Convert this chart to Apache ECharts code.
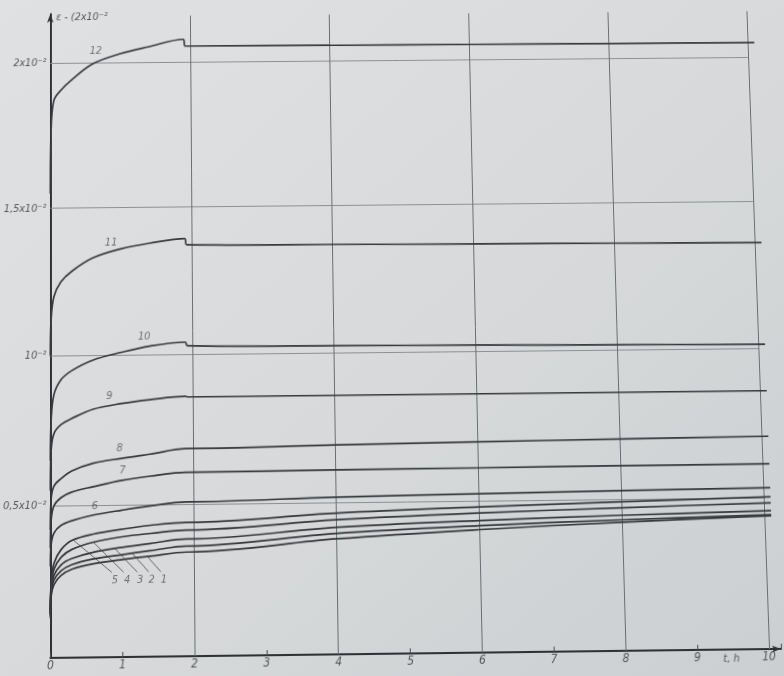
<!DOCTYPE html>
<html>
<head>
<meta charset="utf-8">
<script src="https://cdn.jsdelivr.net/npm/echarts@6/dist/echarts.min.js"></script>
<style>
  html, body {
    margin: 0; padding: 0; overflow: hidden;
    width: 784px; height: 676px;
    background: linear-gradient(to bottom right, #dfe1e2 0%, #d7d9da 55%, #cbcfd1 100%);
  }
  #chart { width: 784px; height: 676px; transform-origin: 0 0; }
</style>
</head>
<body>
<div id="chart"></div>
<script>
// Creep strain curves, ε in units of 10⁻², against time in hours.
const hours = [0, 0.01, 0.05, 0.15, 0.3, 0.6, 1.0, 1.4, 1.9, 1.93, 4, 6, 8, 10.1];

const curve1  = [0.13, 0.20, 0.24, 0.27, 0.29, 0.307, 0.32, 0.33, 0.342, 0.342, 0.38, 0.405, 0.424, 0.44];
const curve2  = [0.14, 0.21, 0.255, 0.285, 0.305, 0.323, 0.336, 0.348, 0.362, 0.362, 0.398, 0.418, 0.432, 0.443];
const curve3  = [0.14, 0.22, 0.27, 0.305, 0.325, 0.345, 0.36, 0.372, 0.385, 0.385, 0.418, 0.435, 0.447, 0.457];
const curve4  = [0.15, 0.23, 0.29, 0.33, 0.355, 0.378, 0.395, 0.405, 0.415, 0.415, 0.443, 0.46, 0.472, 0.483];
const curve5  = [0.15, 0.24, 0.31, 0.355, 0.385, 0.405, 0.42, 0.432, 0.44, 0.44, 0.465, 0.48, 0.492, 0.503];
const curve6  = [0.30, 0.37, 0.41, 0.435, 0.45, 0.468, 0.483, 0.496, 0.508, 0.508, 0.518, 0.524, 0.529, 0.533];
const curve7  = [0.36, 0.45, 0.50, 0.527, 0.545, 0.562, 0.582, 0.595, 0.606, 0.606, 0.609, 0.61, 0.612, 0.613];
const curve8  = [0.42, 0.52, 0.565, 0.59, 0.615, 0.64, 0.655, 0.668, 0.685, 0.685, 0.692, 0.697, 0.701, 0.705];
const curve9  = [0.55, 0.68, 0.74, 0.77, 0.79, 0.82, 0.838, 0.85, 0.86, 0.858, 0.858, 0.858, 0.858, 0.858];
const curve10 = [0.65, 0.78, 0.87, 0.92, 0.95, 0.985, 1.01, 1.03, 1.042, 1.03, 1.025, 1.022, 1.018, 1.015];
const curve11 = [1.00, 1.12, 1.20, 1.25, 1.285, 1.33, 1.36, 1.378, 1.393, 1.372, 1.368, 1.365, 1.363, 1.36];
const curve12 = [1.55, 1.76, 1.87, 1.905, 1.94, 1.995, 2.03, 2.053, 2.078, 2.055, 2.053, 2.052, 2.051, 2.05];

const curves = [curve1, curve2, curve3, curve4, curve5, curve6,
                curve7, curve8, curve9, curve10, curve11, curve12];

// Axis ticks
const xTickValues = [0, 1, 2, 3, 4, 5, 6, 7, 8, 9, 10];
const xGridHours = [2, 4, 6, 8, 10];
const yTickValues = [0.5, 1, 1.5, 2];
const yTickLabels = ['0,5x10⁻²', '10⁻²', '1,5x10⁻²', '2x10⁻²'];

// Curve numbers written beside the curves
const labelNames = ['12', '11', '10', '9', '8', '7', '6', '5', '4', '3', '2', '1'];
const labelHours = [0.65, 0.86, 1.32, 0.83, 0.97, 1.01, 0.62, 0.90, 1.07, 1.25, 1.41, 1.58];
const labelEps   = [2.04, 1.38, 1.06, 0.865, 0.69, 0.613, 0.497, 0.252, 0.252, 0.252, 0.252, 0.252];

// Leader lines from the numbers 5…1 up to their curves
const leaderFromHours = [0.32, 0.60, 0.90, 1.14, 1.35];
const leaderFromEps   = [0.386, 0.378, 0.356, 0.340, 0.329];
const leaderToHours   = [0.855, 1.02, 1.21, 1.37, 1.54];
const leaderToEps     = [0.278, 0.278, 0.278, 0.278, 0.278];

const X_MAX = 10.17;
const Y_MAX = 2.17;
const FONT = "'DejaVu Sans Condensed', 'DejaVu Sans', sans-serif";
const INK = '#37393c';
const TEXT = '#55585b';

// Sheet geometry: the drawing sits slightly keystoned on the page.
// Plot corners (t=0/10, ε=0/2) before and after the page warp.
const flatCorners   = [[48, 658], [770, 658], [48, 63], [770, 63]];
const warpedCorners = [[48, 658], [770, 649], [48, 63], [749, 57]];

function solveHomography(src, dst) {
  const A = [], b = [];
  for (let i = 0; i < 4; i++) {
    const [x, y] = src[i], [u, v] = dst[i];
    A.push([x, y, 1, 0, 0, 0, -u * x, -u * y]); b.push(u);
    A.push([0, 0, 0, x, y, 1, -v * x, -v * y]); b.push(v);
  }
  const n = 8;
  for (let c = 0; c < n; c++) {
    let p = c;
    for (let r = c + 1; r < n; r++) if (Math.abs(A[r][c]) > Math.abs(A[p][c])) p = r;
    [A[c], A[p]] = [A[p], A[c]]; [b[c], b[p]] = [b[p], b[c]];
    for (let r = 0; r < n; r++) {
      if (r === c) continue;
      const f = A[r][c] / A[c][c];
      for (let k = c; k < n; k++) A[r][k] -= f * A[c][k];
      b[r] -= f * b[c];
    }
  }
  return b.map((v, i) => v / A[i][i]);
}
const h = solveHomography(flatCorners, warpedCorners);
document.getElementById('chart').style.transform =
  'matrix3d(' + [h[0], h[3], 0, h[6], h[1], h[4], 0, h[7], 0, 0, 1, 0, h[2], h[5], 0, 1].join(',') + ')';

const chart = echarts.init(document.getElementById('chart'), null, { renderer: 'canvas' });

const curveSeries = curves.map((c, k) => ({
  name: String(k + 1),
  type: 'line',
  data: hours.map((t, i) => [t, c[i]]),
  smooth: 0.35,
  showSymbol: false,
  symbol: 'none',
  clip: false,
  z: 3,
  lineStyle: { color: INK, width: 1.7 },
  emphasis: { disabled: true }
}));

const hGrid = yTickValues.map(v => [
  { coord: [0, v], lineStyle: { color: '#8c9093', width: 1, type: 'solid' } },
  { coord: [10, v] }
]);
const vGrid = xGridHours.map(t => [
  { coord: [t, 0], lineStyle: { color: '#6a6e71', width: 1, type: 'solid' } },
  { coord: [t, Y_MAX - 0.01] }
]);
const leaders = leaderFromHours.map((t, i) => [
  { coord: [t, leaderFromEps[i]], lineStyle: { color: '#5a5d60', width: 0.9, type: 'solid' } },
  { coord: [leaderToHours[i], leaderToEps[i]] }
]);

const guideSeries = {
  name: 'guides',
  type: 'line',
  data: [[0, 0]],
  symbol: 'none',
  lineStyle: { opacity: 0 },
  silent: true,
  z: 1,
  markLine: {
    silent: true,
    symbol: ['none', 'none'],
    label: { show: false },
    z: 1,
    data: hGrid.concat(vGrid, leaders)
  }
};

const labelSeries = {
  name: 'numbers',
  type: 'scatter',
  symbolSize: 1,
  itemStyle: { color: 'rgba(0,0,0,0)' },
  silent: true,
  z: 4,
  data: labelNames.map((n, i) => ({ value: [labelHours[i], labelEps[i]], name: n })),
  label: {
    show: true,
    position: 'inside',
    formatter: p => p.name,
    color: TEXT,
    fontFamily: FONT,
    fontStyle: 'italic',
    fontSize: 11
  }
};

chart.setOption({
  animation: false,
  backgroundColor: 'transparent',
  grid: { left: 48, right: 2, top: 12.4, bottom: 18, containLabel: false },
  xAxis: {
    type: 'value',
    min: 0,
    max: X_MAX,
    interval: 1,
    name: 't, h',
    nameLocation: 'end',
    nameGap: -50,
    nameTextStyle: {
      color: TEXT, fontFamily: FONT, fontStyle: 'italic', fontSize: 11,
      align: 'center', verticalAlign: 'top', padding: [4, 0, 0, 0]
    },
    axisLine: {
      show: true, onZero: false,
      symbol: ['none', 'arrow'], symbolSize: [5, 9],
      lineStyle: { color: '#2f3134', width: 2 }
    },
    axisTick: { show: true, inside: true, length: 5, lineStyle: { color: '#4a4d50', width: 1 } },
    axisLabel: {
      margin: 2,
      color: TEXT, fontFamily: FONT, fontStyle: 'italic', fontSize: 12,
      formatter: v => (xTickValues.indexOf(v) >= 0 ? String(v) : '')
    },
    splitLine: { show: false }
  },
  yAxis: {
    type: 'value',
    min: 0,
    max: Y_MAX,
    interval: 0.5,
    name: 'ε - (2x10⁻²',
    nameLocation: 'end',
    nameGap: -4,
    nameTextStyle: {
      color: TEXT, fontFamily: FONT, fontStyle: 'italic', fontSize: 11,
      align: 'left', verticalAlign: 'middle', padding: [0, 0, 0, 6]
    },
    axisLine: {
      show: true, onZero: false,
      symbol: ['none', 'arrow'], symbolSize: [5, 9],
      lineStyle: { color: '#2f3134', width: 2 }
    },
    axisTick: { show: false },
    axisLabel: {
      margin: 4,
      color: TEXT, fontFamily: FONT, fontStyle: 'italic', fontSize: 11,
      formatter: v => {
        const i = yTickValues.indexOf(v);
        return i >= 0 ? yTickLabels[i] : '';
      }
    },
    splitLine: { show: false }
  },
  series: [guideSeries].concat(curveSeries, [labelSeries])
});
</script>
</body>
</html>
